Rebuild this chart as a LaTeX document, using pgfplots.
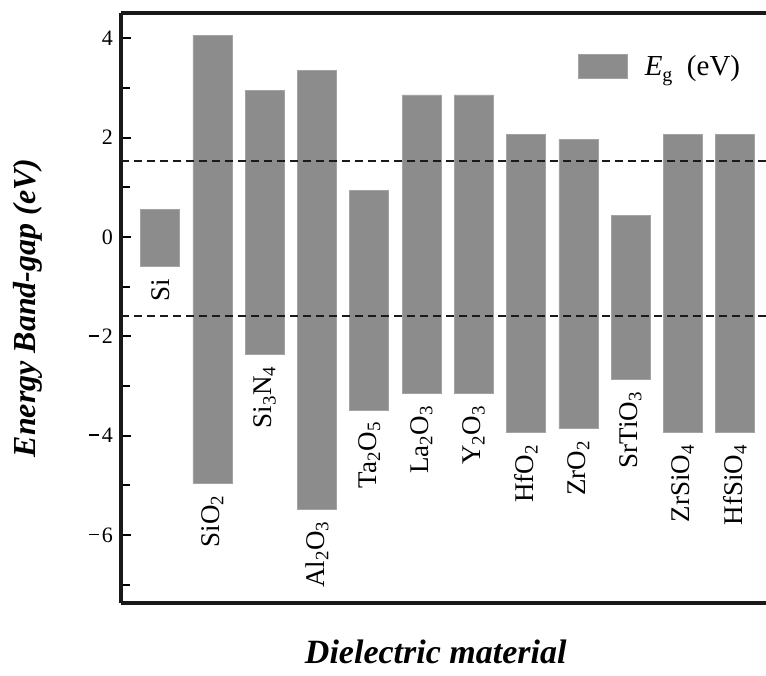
\documentclass[border=0pt]{standalone}
\usepackage{pgfplots}
\pgfplotsset{compat=1.18}
\usepackage{graphicx}
\usepackage{fontspec}
\setmainfont{Liberation Serif}
\definecolor{barcol}{HTML}{8C8C8C}
\definecolor{baredge}{HTML}{A3A3A3}
\definecolor{dashcol}{HTML}{1A1A1A}
\newcommand\mn{\rule[6.8pt]{10pt}{1.7pt}\hspace{2.5pt}}
\begin{document}
\begin{tikzpicture}
\path[use as bounding box] (-121pt,-72pt) rectangle (645pt,603pt);
\begin{axis}[
  at={(0pt,0pt)}, anchor=south west,
  scale only axis, width=645pt, height=590pt,
  xmin=-0.75, xmax=11.59, ymin=-7.37, ymax=4.51,
  axis x line=box, axis y line=left,
  axis line style={line width=3.5pt, -, black!90},
  xtick=\empty,
  ytick={-6,-4,-2,0,2,4},
  yticklabels={\mn6,\mn4,\mn2,0,2,4},
  minor ytick={-7,-5,-3,-1,1,3},
  tick align=inside,
  major tick length=10pt, minor tick length=9pt,
  every tick/.style={line width=1.8pt, black},
  yticklabel style={font=\fontsize{22}{26}\selectfont, inner sep=0pt, xshift=-8pt},
  xlabel={\fontsize{34}{40}\selectfont\bfseries\itshape Dielectric material},
  xlabel style={at={(axis description cs:0.488,-0.1017)}, anchor=base},
  ylabel={\fontsize{32}{38}\selectfont\bfseries\itshape Energy Band-gap (eV)},
  ylabel style={at={(axis description cs:-0.1333,0.50)}, anchor=base},
  legend style={draw=none, fill=none, at={(axis description cs:0.7085,0.91)}, anchor=west,
    font=\fontsize{29}{34}\selectfont, inner sep=0pt},
]
\addplot[ybar, bar width=0.746, bar shift=0pt, stack plots=y, draw=none, fill=none, forget plot]
  coordinates {(0,-0.60) (1,-4.96) (2,-2.36) (3,-5.48) (4,-3.48) (5,-3.15) (6,-3.15) (7,-3.94) (8,-3.86) (9,-2.87) (10,-3.94) (11,-3.94)};
\addplot[ybar, bar width=0.746, bar shift=0pt, stack plots=y, fill=barcol, draw=baredge, line width=0.6pt,
  legend image code/.code={\draw[fill=barcol, draw=baredge, line width=0.6pt] (0pt,-12pt) rectangle (49pt,12pt);}]
  coordinates {(0,1.16) (1,9.02) (2,5.31) (3,8.84) (4,4.41) (5,6.01) (6,6.01) (7,6.00) (8,5.83) (9,3.30) (10,6.00) (11,6.00)};
\addlegendentry{\hspace*{15pt}\textit{E}\raisebox{-6pt}{\fontsize{20}{24}\selectfont g}\hspace{0.5em}(eV)}
\addplot[dashcol, line width=2pt, dash pattern=on 8pt off 5pt, forget plot] coordinates {(-0.75,1.52) (11.59,1.52)};
\addplot[dashcol, line width=2pt, dash pattern=on 8pt off 5pt, forget plot] coordinates {(-0.75,-1.59) (11.59,-1.59)};
\addplot[draw=none, only marks, mark=none, forget plot,
  point meta=explicit symbolic, nodes near coords={\pgfplotspointmeta},
  every node near coord/.style={rotate=90, anchor=east, text=black, font=\fontsize{27}{32}\selectfont, inner xsep=12pt, inner ysep=0pt}]
  coordinates {(0,-0.60) [Si] (1,-4.96) [SiO\textsubscript{2}] (2,-2.36) [Si\textsubscript{3}N\textsubscript{4}] (3,-5.48) [Al\textsubscript{2}O\textsubscript{3}] (4,-3.48) [Ta\textsubscript{2}O\textsubscript{5}] (5,-3.15) [La\textsubscript{2}O\textsubscript{3}] (6,-3.15) [Y\textsubscript{2}O\textsubscript{3}] (7,-3.94) [HfO\textsubscript{2}] (8,-3.86) [ZrO\textsubscript{2}] (9,-2.87) [SrTiO\textsubscript{3}] (10,-3.94) [ZrSiO\textsubscript{4}] (11,-3.94) [HfSiO\textsubscript{4}]};
\end{axis}
\end{tikzpicture}
\end{document}
